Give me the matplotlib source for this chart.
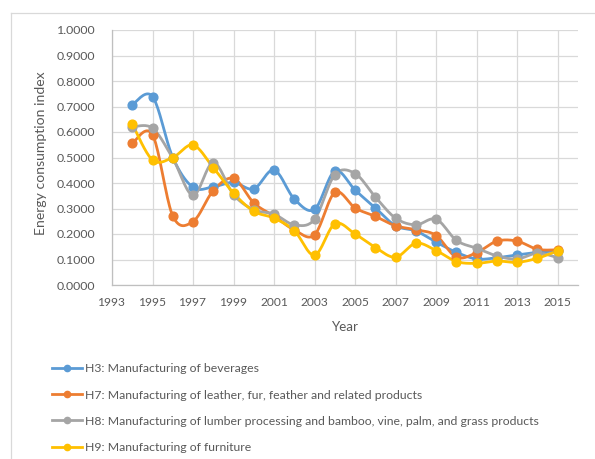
import numpy as np
import matplotlib
matplotlib.use("Agg")
import matplotlib.pyplot as plt
from matplotlib.lines import Line2D

years = list(range(1994, 2016))
h3 = [0.707, 0.739, 0.500, 0.383, 0.385, 0.402, 0.377, 0.451, 0.337, 0.297, 0.447,
      0.372, 0.302, 0.232, 0.212, 0.168, 0.128, 0.102, 0.107, 0.118, 0.128, 0.134]
h7 = [0.556, 0.589, 0.271, 0.249, 0.370, 0.418, 0.322, 0.270, 0.216, 0.197, 0.363,
      0.302, 0.269, 0.232, 0.217, 0.194, 0.109, 0.127, 0.172, 0.172, 0.140, 0.138]
h8 = [0.620, 0.615, 0.497, 0.352, 0.480, 0.354, 0.295, 0.278, 0.236, 0.258, 0.433,
      0.437, 0.345, 0.262, 0.236, 0.258, 0.175, 0.144, 0.114, 0.102, 0.125, 0.107]
h9 = [0.631, 0.490, 0.500, 0.549, 0.460, 0.360, 0.289, 0.262, 0.213, 0.117, 0.240,
      0.200, 0.147, 0.109, 0.164, 0.135, 0.092, 0.085, 0.094, 0.089, 0.105, 0.134]

labels = [
    "H3: Manufacturing of beverages",
    "H7: Manufacturing of leather, fur, feather and related products",
    "H8: Manufacturing of lumber processing and bamboo, vine, palm, and grass products",
    "H9: Manufacturing of furniture",
]
colors = ["#5B9BD5", "#ED7D31", "#A5A5A5", "#FFC000"]
x_ticks = list(range(1993, 2016, 2))
y_ticks = [i / 10 for i in range(11)]
y_title = "Energy consumption index"
x_title = "Year"

TEXT = "#595959"
GRID = "#D9D9D9"
plt.rcParams["font.family"] = ["Lato", "DejaVu Sans"]

W, H = 595, 459


def smooth(xs, ys, n=20):
    """Catmull-Rom style cubic Bezier smoothing between successive points."""
    xs = np.asarray(xs, float)
    ys = np.asarray(ys, float)
    px = np.concatenate([[xs[0]], xs, [xs[-1]]])
    py = np.concatenate([[ys[0]], ys, [ys[-1]]])
    t = np.linspace(0, 1, n)[:, None]
    outx, outy = [], []
    for i in range(1, len(px) - 2):
        p0 = np.array([px[i], py[i]])
        p3 = np.array([px[i + 1], py[i + 1]])
        c1 = p0 + (np.array([px[i + 1], py[i + 1]]) - np.array([px[i - 1], py[i - 1]])) / 6
        c2 = p3 - (np.array([px[i + 2], py[i + 2]]) - p0) / 6
        pts = ((1 - t) ** 3) * p0 + 3 * ((1 - t) ** 2) * t * c1 + 3 * (1 - t) * t ** 2 * c2 + t ** 3 * p3
        outx.append(pts[:, 0])
        outy.append(pts[:, 1])
    return np.concatenate(outx), np.concatenate(outy)


fig = plt.figure(figsize=(W / 100, H / 100), dpi=100)
ax = fig.add_axes([112 / W, 1 - 285 / H, (578 - 112) / W, (285 - 30) / H])

for series, col in zip([h3, h7, h8, h9], colors):
    sx, sy = smooth(years, series)
    ax.plot(sx, sy, color=col, lw=2.0, zorder=3, solid_capstyle="round")
    ax.plot(years, series, "o", color=col, ms=6.3, zorder=4)

ax.set_xlim(1993, 2016)
ax.set_ylim(0, 1.0)
ax.set_xticks(x_ticks)
ax.set_yticks(y_ticks)
ax.set_yticklabels([f"{v:.4f}" for v in y_ticks])
ax.tick_params(length=0, labelsize=8.8, colors=TEXT)
ax.tick_params(axis="y", pad=12)
ax.tick_params(axis="x", pad=9)
ax.grid(True, color=GRID, lw=0.9, zorder=0)
for side in ["top", "right"]:
    ax.spines[side].set_visible(False)
for side in ["left", "bottom"]:
    ax.spines[side].set_color("#BFBFBF")
    ax.spines[side].set_linewidth(0.9)

handles = [Line2D([0], [0], color=c, lw=2.0, marker="o", ms=4.5) for c in colors]
leg = fig.legend(handles, labels, loc="upper left", bbox_to_anchor=(52 / W, 1 - 363 / H),
                 frameon=False, fontsize=9.4, labelcolor=TEXT, handlelength=2.3,
                 handletextpad=0.2, labelspacing=1.17, borderaxespad=0, borderpad=0)

# scale text so that rendered widths agree with the layout
fig.canvas.draw()
renderer = fig.canvas.get_renderer()


def scaled_size(text, target):
    return text.get_fontsize() * target / text.get_window_extent(renderer).width


def size_for(string, target, base=10.0):
    probe = fig.text(0, 0, string, fontsize=base)
    size = scaled_size(probe, target)
    probe.remove()
    return size


fs = scaled_size(leg.get_texts()[2], 454)
for t in leg.get_texts():
    t.set_fontsize(fs)
ysz = scaled_size(ax.get_yticklabels()[9], 39)
xsz = scaled_size(ax.get_xticklabels()[1], 28)
ax.tick_params(axis="y", labelsize=ysz)
ax.tick_params(axis="x", labelsize=xsz)

ax.set_xlabel(x_title, fontsize=size_for(x_title, 27), color=TEXT)
ax.set_ylabel(y_title, fontsize=size_for(y_title, 163), color=TEXT)
ax.yaxis.set_label_coords(-(112 - 41) / (578 - 112), 1 - (153.5 - 30) / (285 - 30))
ax.xaxis.set_label_coords(0.5, -(327 - 285) / (285 - 30))
ax.xaxis.label.set_va("center")
ax.yaxis.label.set_va("center")

# light chart frame
fig.add_artist(Line2D([11 / W, 11 / W], [0, 1 - 13 / H], color=GRID, lw=0.9,
                      transform=fig.transFigure))
fig.add_artist(Line2D([11 / W, 1], [1 - 13 / H, 1 - 13 / H], color=GRID, lw=0.9,
                      transform=fig.transFigure))

fig.savefig("out.png", dpi=100, facecolor="white")
